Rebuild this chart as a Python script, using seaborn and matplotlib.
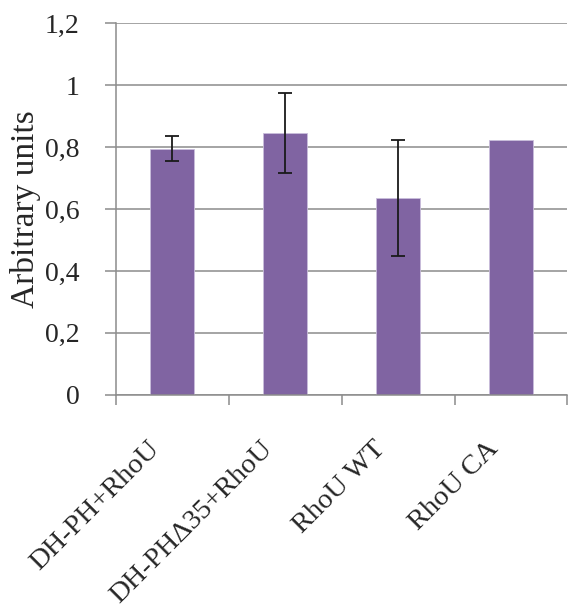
import numpy as np
import pandas as pd
import seaborn as sns
import matplotlib.pyplot as plt
import matplotlib.transforms as mtransforms
from matplotlib.ticker import FuncFormatter, FixedLocator

categories = ["DH-PH+RhoU", "DH-PH\u039435+RhoU", "RhoU WT", "RhoU CA"]
values = [0.795, 0.845, 0.635, 0.823]
errors = [0.04, 0.13, 0.188, np.nan]

sns.set_style("white")
plt.rcParams["font.family"] = ["Liberation Serif", "DejaVu Serif"]

df = pd.DataFrame({"sample": categories, "value": values})

fig = plt.figure(figsize=(5.68, 6.12), dpi=100)
ax = fig.add_axes([0.204, 0.355, 0.795, 0.607])

sns.barplot(data=df, x="sample", y="value", color="#8064A2", saturation=1,
            width=0.39, edgecolor="#c9bedb", linewidth=0.6, ax=ax, zorder=2)

# error bars only where there is a value
for i, (v, e) in enumerate(zip(values, errors)):
    if not np.isnan(e):
        ax.errorbar(i, v, yerr=e, color="#1a1a1a", capsize=5, elinewidth=1.3,
                    capthick=1.3, zorder=3)

ax.set_ylim(0, 1.2)
ax.set_xlim(-0.5, 3.5)
ax.set_yticks(np.arange(0, 1.21, 0.2))
ax.yaxis.set_major_formatter(FuncFormatter(lambda v, p: f"{v:.1f}".rstrip("0").rstrip(".").replace(".", ",")))
ax.yaxis.grid(True, color="#8c8c8c", linewidth=1.1, zorder=0)
ax.set_axisbelow(True)

ax.xaxis.set_minor_locator(FixedLocator([-0.5, 0.5, 1.5, 2.5, 3.5]))
ax.tick_params(axis="x", which="major", length=0, pad=14)
ax.tick_params(axis="x", which="minor", length=7, width=1.1, color="#8c8c8c", direction="out", bottom=True)
ax.tick_params(axis="y", length=8, width=1.1, color="#8c8c8c", direction="out", left=True, labelsize=20, pad=18)
ax.set_xticks(range(len(categories)))
ax.set_xticklabels(categories, rotation=45, ha="right", rotation_mode="anchor", fontsize=20.5)

# nudge rotated labels so their ends sit just left of the category centre
shift = mtransforms.ScaledTranslation(-0.25, -0.22, fig.dpi_scale_trans)
for lab in ax.get_xticklabels():
    lab.set_transform(lab.get_transform() + shift)

for s in ["top", "right"]:
    ax.spines[s].set_visible(False)
for s in ["left", "bottom"]:
    ax.spines[s].set_color("#8c8c8c")
    ax.spines[s].set_linewidth(1.1)

ax.set_xlabel("")
ax.set_ylabel("Arbitrary units", fontsize=24, labelpad=3)

fig.savefig("out.png", dpi=100)
